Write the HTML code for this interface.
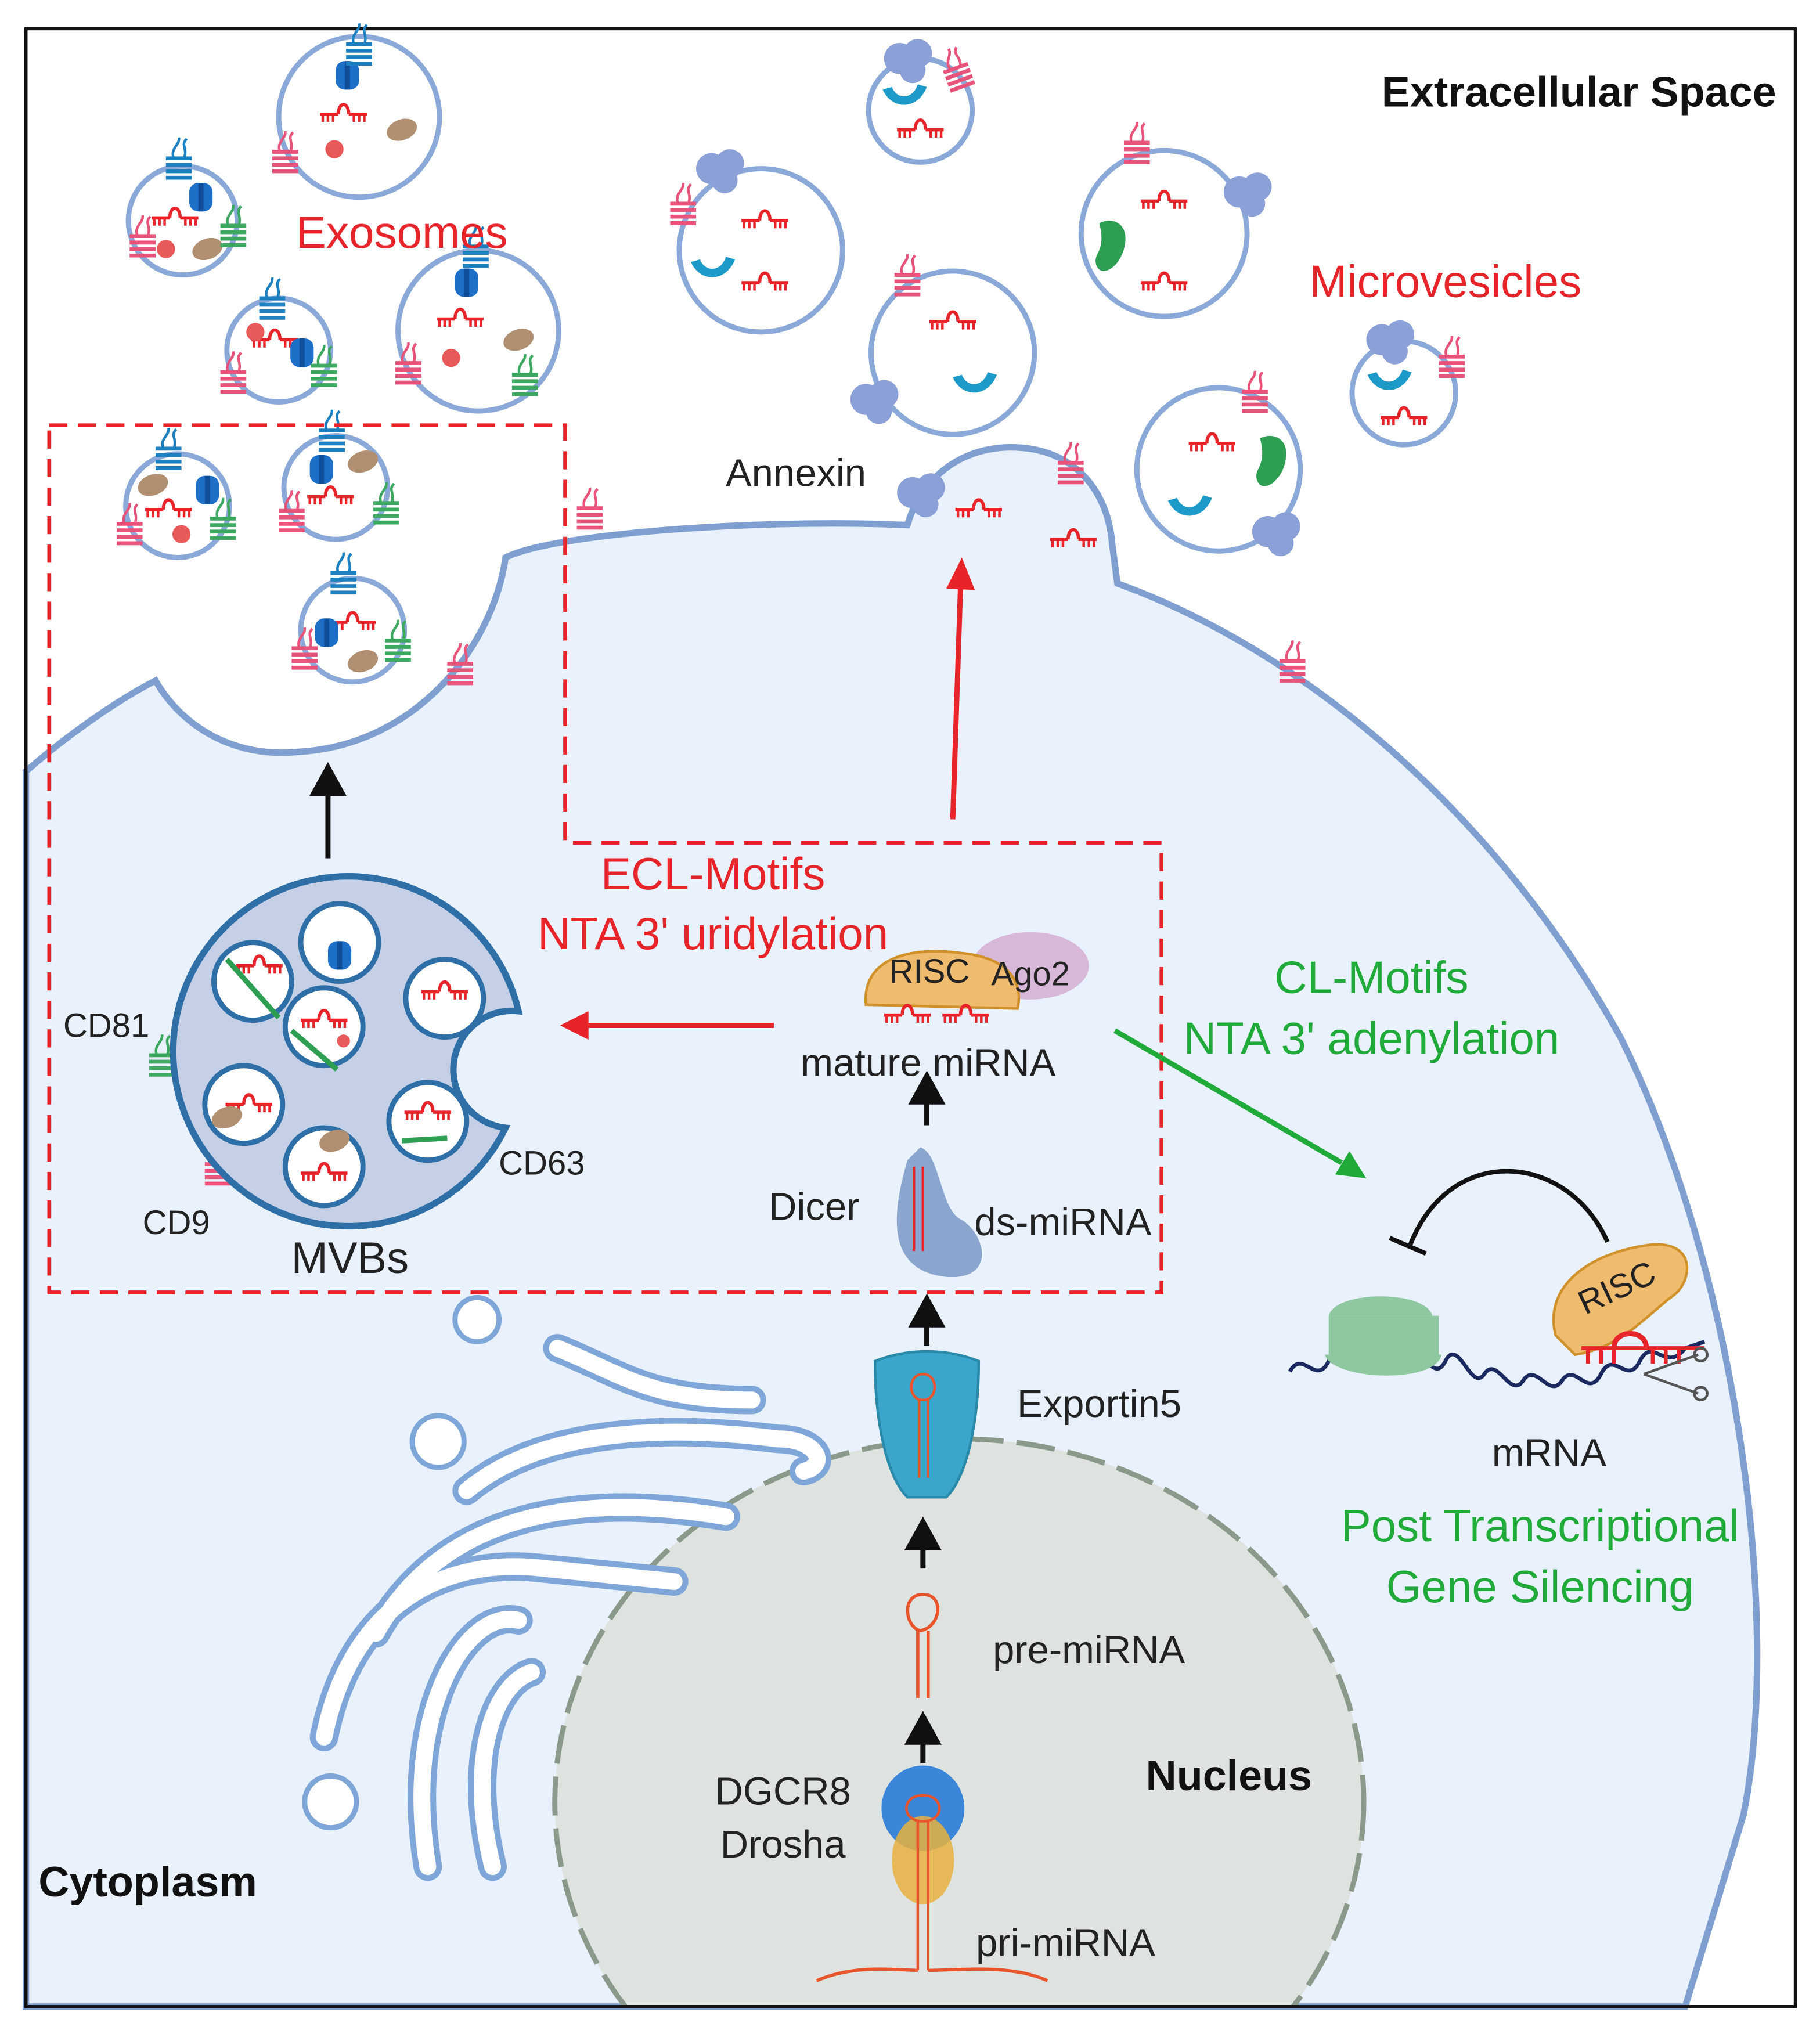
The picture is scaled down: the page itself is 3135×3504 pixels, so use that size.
<!DOCTYPE html>
<html><head><meta charset="utf-8"><style>
html,body{margin:0;padding:0;background:#fff;width:3135px;height:3504px;overflow:hidden}
svg{display:block}
text{font-family:"Liberation Sans",sans-serif}
</style></head><body>
<svg width="3135" height="3504" viewBox="0 0 1404 1569" xmlns="http://www.w3.org/2000/svg">
<defs>
<g id="mi">
<path d="M-18,0 H-4 M4,0 H18" stroke="#e8242b" stroke-width="2.5" fill="none"/>
<path d="M-4,0 C-4,-10 4,-10 4,0" stroke="#e8242b" stroke-width="2.5" fill="none"/>
<path d="M-16,0v6M-12,0v6M-8,0v6M8,0v6M12,0v6M16,0v6" stroke="#e8242b" stroke-width="2"/>
</g>
<g id="tet">
<path d="M-10,-8 h20 M-10,-3 h20 M-10,2 h20 M-10,7 h20" stroke-width="3" fill="none"/>
<path d="M-4,-8 c-3,-8 5,-10 4,-16 M4,-8 c3,-8 -3,-10 2,-15" stroke-width="2" fill="none"/>
</g>
<g id="blu"><rect x="-9" y="-11" width="18" height="22" rx="7" fill="#1e6fc8"/><rect x="-2" y="-11" width="4" height="22" fill="#0f4f9a"/></g>
<g id="brn"><ellipse cx="0" cy="0" rx="12" ry="8" fill="#b09070" transform="rotate(-20)"/></g>
<g id="ann"><circle cx="-6" cy="0" r="12" fill="#8ca0d8"/><circle cx="8" cy="-4" r="11" fill="#8ca0d8"/><circle cx="4" cy="9" r="10" fill="#8ca0d8"/></g>
<g id="cres"><path d="M-17,-6 C-10,10 10,10 17,-8 L10,-10 C6,2 -6,2 -10,-8 Z" fill="#1d9ac8"/></g>
</defs>
<rect x="0" y="0" width="1404" height="1569" fill="#fff"/>
<path d="M20,595 C60,560 100,535 120,525 C140,560 180,585 230,580 C320,575 380,500 390,430 C430,410 600,400 700,405 C710,370 740,345 780,345 C830,345 855,380 858,420 L862,450 C1000,500 1150,620 1250,800 C1340,980 1375,1250 1345,1400 L1300,1548 L20,1548 Z" fill="#e9f1fc" stroke="#7f9fd0" stroke-width="5"/>
<clipPath id="cb"><rect x="20" y="22" width="1365" height="1526"/></clipPath>
<g clip-path="url(#cb)">
<ellipse cx="740" cy="1390" rx="312" ry="280" fill="#dfe3df" stroke="#8a9a8a" stroke-width="4" stroke-dasharray="30,10"/>
</g>
<g fill="none" stroke-linecap="round">
<g stroke="#7fa6d8" stroke-width="22">
<path d="M430,1040 C480,1060 500,1080 580,1080"/>
<path d="M360,1150 C420,1100 520,1100 600,1110 C630,1110 640,1130 620,1135"/>
<path d="M290,1260 C340,1170 440,1150 560,1170"/>
<path d="M250,1340 C270,1240 340,1200 420,1210 L520,1220"/>
<path d="M330,1440 C310,1320 360,1240 400,1250"/>
<path d="M380,1440 C360,1360 380,1300 410,1290"/>
</g>
<g stroke="#fff" stroke-width="13">
<path d="M430,1040 C480,1060 500,1080 580,1080"/>
<path d="M360,1150 C420,1100 520,1100 600,1110 C630,1110 640,1130 620,1135"/>
<path d="M290,1260 C340,1170 440,1150 560,1170"/>
<path d="M250,1340 C270,1240 340,1200 420,1210 L520,1220"/>
<path d="M330,1440 C310,1320 360,1240 400,1250"/>
<path d="M380,1440 C360,1360 380,1300 410,1290"/>
</g>
</g>
<g fill="#fff" stroke="#7fa6d8" stroke-width="4">
<circle cx="368" cy="1018" r="17"/><circle cx="338" cy="1112" r="20"/><circle cx="255" cy="1390" r="20"/>
</g>
<rect x="20" y="22" width="1365" height="1526" fill="none" stroke="#111" stroke-width="2.5"/>
<g fill="#fff" stroke="#8aa8d8" stroke-width="4">
<circle cx="277" cy="90" r="62"/><circle cx="141" cy="170" r="42"/><circle cx="215" cy="270" r="40"/><circle cx="369" cy="255" r="62"/>
<circle cx="710" cy="85" r="40"/><circle cx="587" cy="193" r="63"/><circle cx="735" cy="272" r="63"/><circle cx="898" cy="180" r="64"/><circle cx="940" cy="362" r="63"/><circle cx="1083" cy="303" r="40"/>
<circle cx="137" cy="390" r="40"/><circle cx="259" cy="376" r="40"/><circle cx="272" cy="486" r="40"/>
</g>
<use href="#mi" x="265" y="88"/><use href="#mi" x="135" y="168"/><use href="#mi" x="355" y="246"/><use href="#mi" x="212" y="262"/>
<use href="#mi" x="130" y="393"/><use href="#mi" x="255" y="383"/><use href="#mi" x="272" y="480"/>
<use href="#mi" x="710" y="100"/><use href="#mi" x="590" y="170"/><use href="#mi" x="590" y="218"/><use href="#mi" x="735" y="248"/><use href="#mi" x="898" y="155"/><use href="#mi" x="898" y="218"/><use href="#mi" x="935" y="342"/><use href="#mi" x="1083" y="322"/>
<use href="#mi" x="755" y="393"/><use href="#mi" x="828" y="416"/>
<use href="#blu" x="268" y="58"/><use href="#blu" x="155" y="152"/><use href="#blu" x="233" y="272"/><use href="#blu" x="360" y="218"/><use href="#blu" x="160" y="378"/><use href="#blu" x="248" y="362"/><use href="#blu" x="252" y="488"/>
<use href="#brn" x="310" y="100"/><use href="#brn" x="160" y="192"/><use href="#brn" x="400" y="262"/><use href="#brn" x="118" y="374"/><use href="#brn" x="280" y="356"/><use href="#brn" x="280" y="510"/>
<g fill="#e8595a"><circle cx="258" cy="115" r="7"/><circle cx="128" cy="192" r="7"/><circle cx="197" cy="256" r="7"/><circle cx="348" cy="276" r="7"/><circle cx="140" cy="412" r="7"/></g>
<use href="#cres" x="698" y="75"/><use href="#cres" x="550" y="208"/><use href="#cres" x="752" y="297"/><use href="#cres" x="918" y="392"/><use href="#cres" x="1072" y="295"/>
<g fill="#2e9e52"><path d="M848,172 c10,-5 22,0 20,15 c-2,18 -18,28 -22,18 c-4,-10 8,-10 2,-33z"/><path d="M972,338 c10,-5 22,0 20,15 c-2,18 -18,28 -22,18 c-4,-10 8,-10 2,-33z"/></g>
<use href="#ann" x="700" y="45"/><use href="#ann" x="555" y="130"/><use href="#ann" x="962" y="148"/><use href="#ann" x="674" y="308"/><use href="#ann" x="984" y="410"/><use href="#ann" x="1072" y="262"/><use href="#ann" x="710" y="380"/>
<g stroke="#e8537a"><use href="#tet" x="740" y="60" transform="rotate(-20 740 60)"/><use href="#tet" x="527" y="165"/><use href="#tet" x="700" y="220"/><use href="#tet" x="877" y="118"/><use href="#tet" x="968" y="310"/><use href="#tet" x="1120" y="283"/><use href="#tet" x="826" y="365"/><use href="#tet" x="455" y="400"/><use href="#tet" x="355" y="520"/><use href="#tet" x="997" y="518"/><use href="#tet" x="220" y="125"/><use href="#tet" x="110" y="190"/><use href="#tet" x="180" y="295"/><use href="#tet" x="315" y="288"/><use href="#tet" x="100" y="412"/><use href="#tet" x="225" y="402"/><use href="#tet" x="235" y="508"/><use href="#tet" x="168" y="906"/></g>
<g stroke="#1c7fc0"><use href="#tet" x="277" y="42"/><use href="#tet" x="138" y="130"/><use href="#tet" x="210" y="238"/><use href="#tet" x="367" y="198"/><use href="#tet" x="130" y="354"/><use href="#tet" x="256" y="340"/><use href="#tet" x="265" y="450"/><use href="#tet" x="265" y="700"/><use href="#tet" x="318" y="838"/><use href="#tet" x="345" y="910"/></g>
<g stroke="#3ca860"><use href="#tet" x="180" y="182"/><use href="#tet" x="250" y="290"/><use href="#tet" x="405" y="297"/><use href="#tet" x="172" y="408"/><use href="#tet" x="298" y="396"/><use href="#tet" x="307" y="502"/><use href="#tet" x="125" y="822"/><use href="#tet" x="222" y="855"/></g>
<path d="M405,780 A135,135 0 1 0 395,870 A30,30 0 0 1 405,780 Z" fill="#c5cfe5" stroke="#2f6fa8" stroke-width="5" transform="translate(-5,0)"/>
<g fill="#fff" stroke="#2f6fa8" stroke-width="4">
<circle cx="262" cy="727" r="30"/><circle cx="195" cy="757" r="30"/><circle cx="343" cy="770" r="30"/><circle cx="250" cy="792" r="30"/><circle cx="188" cy="852" r="30"/><circle cx="250" cy="900" r="30"/><circle cx="330" cy="865" r="30"/>
</g>
<use href="#blu" x="262" y="737"/><use href="#mi" x="343" y="765"/><use href="#mi" x="250" y="787"/><use href="#mi" x="192" y="852"/><use href="#mi" x="250" y="905"/><use href="#mi" x="330" y="858"/><use href="#mi" x="200" y="745"/>
<use href="#brn" x="175" y="862"/><use href="#brn" x="258" y="880"/><circle cx="265" cy="803" r="5" fill="#e8595a"/>
<path d="M175,740 L215,785 M225,795 L260,825 M310,880 L345,878" stroke="#2e9e52" stroke-width="4"/>
<path d="M38,328 H436 V650 H896 V997 H38 Z" fill="none" stroke="#e8242b" stroke-width="3" stroke-dasharray="14,8"/>
<ellipse cx="795" cy="745" rx="45" ry="26" fill="#d8b8d8"/>
<path d="M668,775 C665,740 700,730 740,735 C775,738 790,755 785,778 Z" fill="#efbb6e" stroke="#d0902a" stroke-width="2"/>
<use href="#mi" x="700" y="783"/><use href="#mi" x="745" y="783"/>
<path d="M700,895 C690,930 680,980 730,985 C770,988 760,950 740,940 C725,930 725,890 710,885 Z" fill="#8aa6cf"/>
<path d="M705,900 V965 M712,900 V965" stroke="#e8242b" stroke-width="2"/>
<path d="M675,1050 C700,1040 730,1040 755,1050 C755,1100 745,1140 730,1155 L700,1155 C685,1140 675,1100 675,1050 Z" fill="#3aa6cc" stroke="#2a8aaa" stroke-width="2"/>
<path d="M712,1060 C700,1060 700,1080 712,1080 C724,1080 724,1060 712,1060 M709,1080 V1140 M716,1080 V1140" stroke="#e8542b" stroke-width="2" fill="none"/>
<ellipse cx="712" cy="1395" rx="32" ry="33" fill="#3b86d8"/>
<ellipse cx="712" cy="1435" rx="24" ry="34" fill="#e8b040" opacity="0.85"/>
<path d="M712,1385 C695,1385 695,1405 712,1405 C729,1405 729,1385 712,1385 M708,1405 V1520 M716,1405 V1520" stroke="#e8542b" stroke-width="2" fill="none"/>
<path d="M630,1528 C660,1515 690,1520 708,1520 M716,1520 C740,1520 780,1515 808,1528" stroke="#e8542b" stroke-width="2.5" fill="none"/>
<path d="M712,1230 C695,1230 698,1255 710,1258 C726,1255 729,1230 712,1230 M708,1258 V1310 M716,1258 V1310" stroke="#e8542b" stroke-width="2.5" fill="none"/>
<path d="M995,1058 C1005,1040 1015,1070 1025,1050 S1045,1070 1055,1050 S1075,1070 1085,1050 S1105,1070 1115,1050 S1135,1075 1145,1060 S1165,1080 1175,1065 S1195,1080 1205,1065 S1225,1080 1235,1060 S1255,1070 1265,1050 S1285,1060 1300,1040 L1315,1035" stroke="#1a2a60" stroke-width="3" fill="none"/>
<path d="M1025,1015 C1030,995 1100,995 1105,1015 Z M1022,1045 C1028,1065 1108,1068 1112,1045 Z" fill="#8fc8a0"/>
<rect x="1025" y="1015" width="85" height="32" fill="#8fc8a0"/>
<path d="M1200,1030 C1190,990 1230,965 1275,960 C1310,958 1305,990 1290,1000 C1270,1015 1250,1040 1215,1045 Z" fill="#efbb6e" stroke="#d0902a" stroke-width="2"/>
<text x="1248" y="1002" font-size="26" fill="#222" text-anchor="middle" transform="rotate(-25 1248 995)">RISC</text>
<path d="M1220,1040 H1315 M1225,1040v12M1235,1040v12M1245,1040v12M1275,1040v12M1285,1040v12M1295,1040v12" stroke="#e8242b" stroke-width="3"/>
<path d="M1245,1040 C1245,1025 1270,1025 1270,1040" stroke="#e8242b" stroke-width="4" fill="none"/>
<path d="M1088,960 C1120,880 1210,890 1240,958" stroke="#111" stroke-width="3.5" fill="none"/>
<path d="M1072,955 L1100,967" stroke="#111" stroke-width="3.5"/>
<path d="M1268,1060 L1310,1045 M1268,1060 L1310,1075" stroke="#555" stroke-width="2"/>
<circle cx="1312" cy="1045" r="5" fill="none" stroke="#555" stroke-width="2"/><circle cx="1312" cy="1075" r="5" fill="none" stroke="#555" stroke-width="2"/>
<g stroke="#111" stroke-width="4" fill="#111">
<path d="M253,662 V610"/><path d="M242,612 L253,592 L264,612 Z"/>
<path d="M715,868 V848"/><path d="M704,850 L715,830 L726,850 Z"/>
<path d="M715,1038 V1020"/><path d="M704,1022 L715,1002 L726,1022 Z"/>
<path d="M712,1210 V1192"/><path d="M701,1194 L712,1174 L723,1194 Z"/>
<path d="M712,1360 V1342"/><path d="M701,1344 L712,1324 L723,1344 Z"/>
</g>
<path d="M735,632 L741,452" stroke="#e8242b" stroke-width="4"/><path d="M730,454 L742,430 L752,455 Z" fill="#e8242b"/>
<path d="M597,791 H452" stroke="#e8242b" stroke-width="4"/><path d="M454,780 L432,791 L454,802 Z" fill="#e8242b"/>
<path d="M860,795 L1035,897" stroke="#1faa3a" stroke-width="4"/><path d="M1030,906 L1054,909 L1041,888 Z" fill="#1faa3a"/>
<g font-size="33" fill="#111" font-weight="bold">
<text x="1218" y="82" text-anchor="middle">Extracellular Space</text>
<text x="948" y="1381" text-anchor="middle">Nucleus</text>
<text x="114" y="1463" text-anchor="middle">Cytoplasm</text>
</g>
<g font-size="35" fill="#e8242b" text-anchor="middle">
<text x="310" y="191">Exosomes</text><text x="1115" y="229">Microvesicles</text>
<text x="550" y="686">ECL-Motifs</text><text x="550" y="732">NTA 3' uridylation</text>
</g>
<g font-size="35" fill="#1faa3a" text-anchor="middle">
<text x="1058" y="766">CL-Motifs</text><text x="1058" y="813">NTA 3' adenylation</text>
<text x="1188" y="1189">Post Transcriptional</text><text x="1188" y="1236">Gene Silencing</text>
</g>
<g font-size="30" fill="#222" text-anchor="middle">
<text x="614" y="375">Annexin</text>
<text x="716" y="830">mature miRNA</text>
<text x="628" y="941">Dicer</text><text x="820" y="953">ds-miRNA</text>
<text x="848" y="1093">Exportin5</text>
<text x="1195" y="1131">mRNA</text>
<text x="840" y="1283">pre-miRNA</text>
<text x="604" y="1392">DGCR8</text><text x="604" y="1433">Drosha</text>
<text x="822" y="1509">pri-miRNA</text>
<text x="82" y="800" font-size="26">CD81</text><text x="418" y="906" font-size="26">CD63</text><text x="136" y="952" font-size="26">CD9</text>
<text x="270" y="982" font-size="34">MVBs</text>
<text x="717" y="758" font-size="26">RISC</text><text x="795" y="760" font-size="26">Ago2</text>
</g>
</svg>
</body></html>
